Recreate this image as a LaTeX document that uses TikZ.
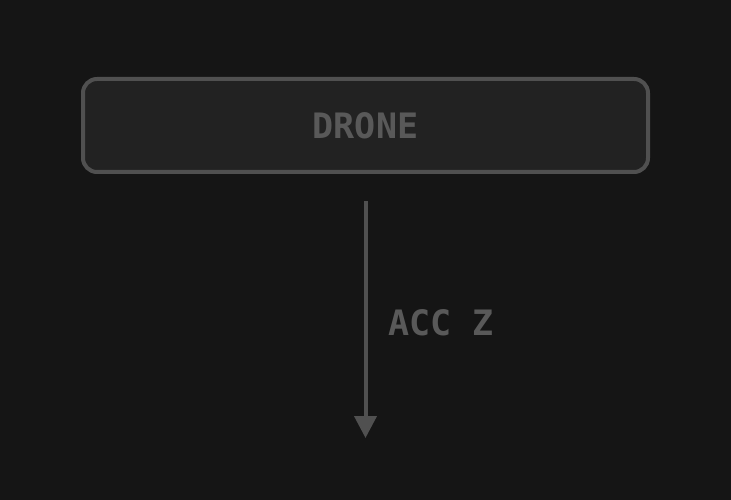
\documentclass[tikz,border=0pt]{standalone}
\usepackage{fontspec}
\setmonofont{DejaVu Sans Mono}
\usetikzlibrary{positioning,arrows.meta,backgrounds}
\definecolor{BackColor}{HTML}{151515}
\definecolor{BoxColor}{HTML}{222222}
\definecolor{EdgeColor}{HTML}{505050}
\definecolor{TextColor}{HTML}{595959}

\begin{document}
\begin{tikzpicture}[x=1pt, y=-1pt, font=\ttfamily\bfseries\fontsize{35}{35}\selectfont,
    block/.style={draw=EdgeColor, fill=BoxColor, line width=4pt, rounded corners=14pt,
    minimum width=565pt, minimum height=93pt, text=TextColor, inner sep=0pt},
    signal/.style={draw=EdgeColor, line width=4pt, -{Triangle[width=22pt,length=22pt]}},
    tag/.style={text=TextColor, anchor=west, inner sep=0pt}]

    \fill[BackColor] (0,0) rectangle (731,500);

    \node[block] at (365.5,125.5) (Drone) {DRONE};
    \coordinate (AccTip) at (365.5,438);
    \draw[signal, shorten <=27pt] (Drone.south) -- (AccTip);

    \node[tag] at (388,323) (AccLabel) {ACC Z};

\end{tikzpicture}
\end{document}
